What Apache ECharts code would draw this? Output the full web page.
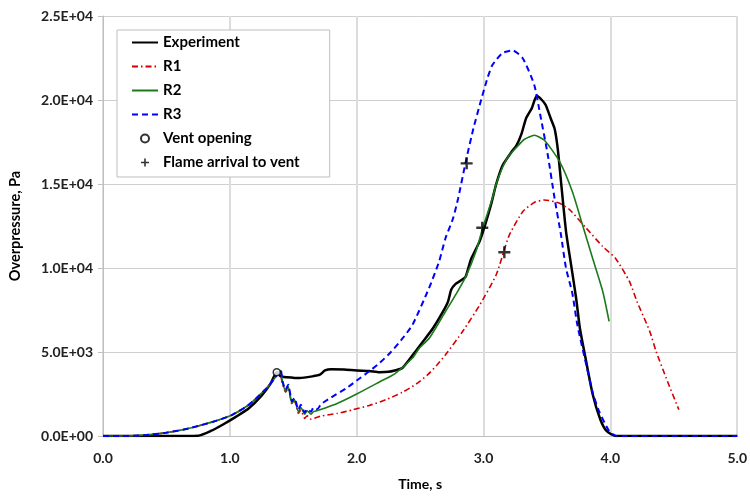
<!DOCTYPE html>
<html>
<head>
<meta charset="utf-8">
<script src="https://cdn.jsdelivr.net/npm/echarts@6/dist/echarts.min.js"></script>
<style>
html,body{margin:0;padding:0;background:#fff;}
#chart{width:750px;height:496px;}
</style>
</head>
<body>
<div id="chart"></div>
<script>
// Time axis ticks and overpressure axis ticks
var xTicks = [0, 1, 2, 3, 4, 5];
var yTicks = [0, 5000, 10000, 15000, 20000, 25000];

// Experiment
var expT = [0, 0.5, 0.75, 0.85, 0.95, 1.05, 1.15, 1.25, 1.32, 1.37, 1.40, 1.45, 1.55, 1.65, 1.71, 1.75, 1.80, 1.90, 2.00, 2.10, 2.18, 2.25, 2.30, 2.36, 2.44, 2.52, 2.60, 2.68, 2.72, 2.745, 2.78, 2.83, 2.86, 2.90, 2.97, 3.01, 3.06, 3.10, 3.15, 3.22, 3.26, 3.30, 3.335, 3.38, 3.42, 3.46, 3.49, 3.53, 3.56, 3.585, 3.61, 3.65, 3.69, 3.73, 3.76, 3.80, 3.86, 3.92, 3.97, 4.04, 4.2, 5.0];
var expP = [0, 0, 20, 300, 700, 1150, 1650, 2400, 3100, 3800, 3550, 3500, 3450, 3550, 3650, 3900, 3980, 3960, 3900, 3870, 3800, 3820, 3900, 4050, 4800, 5600, 6400, 7400, 8000, 8700, 9050, 9300, 9500, 10500, 11600, 12500, 13800, 15000, 16100, 16900, 17300, 18000, 18900, 19500, 20250, 20000, 19700, 18900, 18300, 17100, 15200, 12200, 10200, 8200, 6400, 4800, 2500, 1000, 300, 0, 0, 0];

// R1
var r1T = [0, 0.2, 0.37, 0.5, 0.63, 0.75, 0.89, 1.02, 1.15, 1.29, 1.35, 1.39, 1.415, 1.44, 1.46, 1.49, 1.51, 1.54, 1.56, 1.59, 1.61, 1.64, 1.71, 1.85, 1.97, 2.10, 2.23, 2.36, 2.47, 2.56, 2.63, 2.70, 2.835, 2.97, 3.10, 3.20, 3.31, 3.40, 3.48, 3.60, 3.68, 3.81, 3.94, 4.04, 4.15, 4.21, 4.31, 4.36, 4.44, 4.54];
var r1P = [0, 0, 80, 200, 375, 600, 900, 1260, 1860, 2850, 3400, 3850, 3100, 2600, 2850, 1900, 2100, 1350, 1550, 1050, 1200, 1000, 1170, 1350, 1560, 1820, 2160, 2600, 3100, 3650, 4200, 4830, 6220, 7800, 9600, 11900, 13360, 13900, 14050, 13850, 13460, 12370, 11280, 10580, 9200, 8000, 6240, 5050, 3450, 1560];

// R2
var r2T = [0, 0.2, 0.37, 0.5, 0.63, 0.75, 0.89, 1.02, 1.15, 1.29, 1.35, 1.40, 1.415, 1.44, 1.46, 1.49, 1.51, 1.54, 1.56, 1.59, 1.61, 1.64, 1.66, 1.71, 1.85, 2.00, 2.20, 2.30, 2.44, 2.494, 2.573, 2.70, 2.78, 2.86, 2.94, 2.993, 3.07, 3.10, 3.15, 3.20, 3.256, 3.32, 3.40, 3.48, 3.60, 3.70, 3.78, 3.86, 3.94, 3.99];
var r2P = [0, 0, 80, 200, 375, 600, 900, 1260, 1860, 2850, 3400, 3900, 3200, 2700, 2950, 1950, 2150, 1450, 1700, 1300, 1500, 1300, 1450, 1560, 1950, 2500, 3300, 3700, 4640, 5230, 5830, 7410, 8400, 9490, 10980, 12370, 14150, 15000, 16000, 16700, 17150, 17650, 17900, 17600, 16330, 14550, 12570, 10580, 8600, 6820];

// R3
var r3T = [0, 0.2, 0.37, 0.5, 0.63, 0.75, 0.89, 1.02, 1.15, 1.29, 1.35, 1.40, 1.415, 1.44, 1.46, 1.49, 1.51, 1.54, 1.56, 1.59, 1.61, 1.64, 1.66, 1.69, 1.72, 1.80, 1.92, 2.00, 2.10, 2.18, 2.27, 2.35, 2.44, 2.57, 2.65, 2.70, 2.76, 2.80, 2.86, 2.92, 2.97, 3.03, 3.07, 3.15, 3.23, 3.31, 3.40, 3.45, 3.505, 3.56, 3.61, 3.65, 3.70, 3.74, 3.81, 3.86, 3.91, 3.99, 4.05, 5.0];
var r3P = [0, 0, 80, 200, 375, 600, 900, 1260, 1860, 2850, 3400, 3940, 3270, 2750, 3050, 2060, 2260, 1560, 1860, 1400, 1600, 1450, 1700, 1600, 1900, 2300, 2850, 3300, 3850, 4340, 5000, 5700, 6620, 8800, 10390, 11770, 12960, 14150, 16330, 18300, 19700, 21280, 22080, 22800, 22950, 22470, 20890, 19000, 16800, 14150, 12000, 10000, 8500, 6600, 4240, 2600, 1490, 300, 0, 0];

// Markers
var ventT = [1.37];
var ventP = [3800];
var flameT = [2.867, 2.99, 3.164];
var flameP = [16230, 12400, 10940];

function zip(a, b) { return a.map(function (v, i) { return [v, b[i]]; }); }
function sci(v) {
  if (v === 0) return '0.0E+00';
  var e = Math.floor(Math.log10(v) + 1e-9);
  var m = v / Math.pow(10, e);
  return m.toFixed(1) + 'E+' + (e < 10 ? '0' : '') + e;
}

var FONT = 'Lato';
var plusPath = 'path://M4,0H6V4H10V6H6V10H4V6H0V4H4Z';
var noSym = {color: 'rgba(0,0,0,0)', borderWidth: 0, opacity: 0};

var chart = echarts.init(document.getElementById('chart'), null, {renderer: 'canvas'});
chart.setOption({
  animation: false,
  backgroundColor: '#ffffff',
  grid: {left: 103, right: 12, top: 16, bottom: 58, containLabel: false},
  legend: {
    orient: 'vertical',
    left: 117, top: 30,
    backgroundColor: '#ffffff',
    borderColor: '#bfbfbf', borderWidth: 1, borderRadius: 0,
    padding: [5, 30, 7, 14],
    itemWidth: 26, itemHeight: 8, itemGap: 9,
    textStyle: {fontFamily: FONT, fontWeight: 'bold', fontSize: 15, color: '#000'},
    data: [
      {name: 'Experiment', itemStyle: noSym},
      {name: 'R1', itemStyle: noSym},
      {name: 'R2', itemStyle: noSym},
      {name: 'R3', itemStyle: noSym},
      {name: 'Vent opening'},
      {name: 'Flame arrival to vent'}
    ]
  },
  xAxis: {
    type: 'value', min: 0, max: 5, interval: 1,
    name: 'Time, s', nameLocation: 'middle', nameGap: 41,
    nameTextStyle: {fontFamily: FONT, fontWeight: 'bold', fontSize: 14, color: '#000'},
    axisLabel: {fontFamily: FONT, fontWeight: 'bold', fontSize: 14, color: '#222', margin: 15,
      formatter: function (v) { return v.toFixed(1); }},
    axisLine: {show: true, lineStyle: {color: '#bfbfbf', width: 1}},
    axisTick: {show: false},
    splitLine: {show: true, lineStyle: {color: '#dcdcdc', width: 2}}
  },
  yAxis: {
    type: 'value', min: 0, max: 25000, interval: 5000,
    name: 'Overpressure, Pa', nameLocation: 'middle', nameGap: 80, nameRotate: 90,
    nameTextStyle: {fontFamily: FONT, fontWeight: 'bold', fontSize: 14.5, color: '#000'},
    axisLabel: {fontFamily: FONT, fontWeight: 'bold', fontSize: 14, color: '#222', margin: 10,
      formatter: function (v) { return sci(v); }},
    axisLine: {show: true, lineStyle: {color: '#bfbfbf', width: 1}},
    axisTick: {show: true, length: 5, lineStyle: {color: '#bfbfbf'}},
    splitLine: {show: true, lineStyle: {color: '#cfcfcf', width: 1}}
  },
  series: [
    {name: 'Experiment', type: 'line', data: zip(expT, expP), symbol: 'none', smooth: 0.2,
      lineStyle: {color: '#000000', width: 2.5}, itemStyle: {color: '#000000'}},
    {name: 'R1', type: 'line', data: zip(r1T, r1P), symbol: 'none', smooth: 0.2,
      lineStyle: {color: '#d40000', width: 1.6, type: [6, 3, 1.5, 3]}, itemStyle: {color: '#d40000'}},
    {name: 'R2', type: 'line', data: zip(r2T, r2P), symbol: 'none', smooth: 0.2,
      lineStyle: {color: '#1b7a1b', width: 1.6}, itemStyle: {color: '#1b7a1b'}},
    {name: 'R3', type: 'line', data: zip(r3T, r3P), symbol: 'none', smooth: 0.2,
      lineStyle: {color: '#0000ff', width: 2, type: [6, 4]}, itemStyle: {color: '#0000ff'}},
    {name: 'Vent opening', type: 'scatter', data: zip(ventT, ventP), symbol: 'circle', symbolSize: 7,
      itemStyle: {color: '#ffffff', borderColor: '#000000', borderWidth: 1.5}, z: 5},
    {name: 'Flame arrival to vent', type: 'scatter', data: zip(flameT, flameP), symbol: plusPath, symbolSize: 12,
      itemStyle: {color: '#000000'}, z: 5}
  ]
});
</script>
</body>
</html>
